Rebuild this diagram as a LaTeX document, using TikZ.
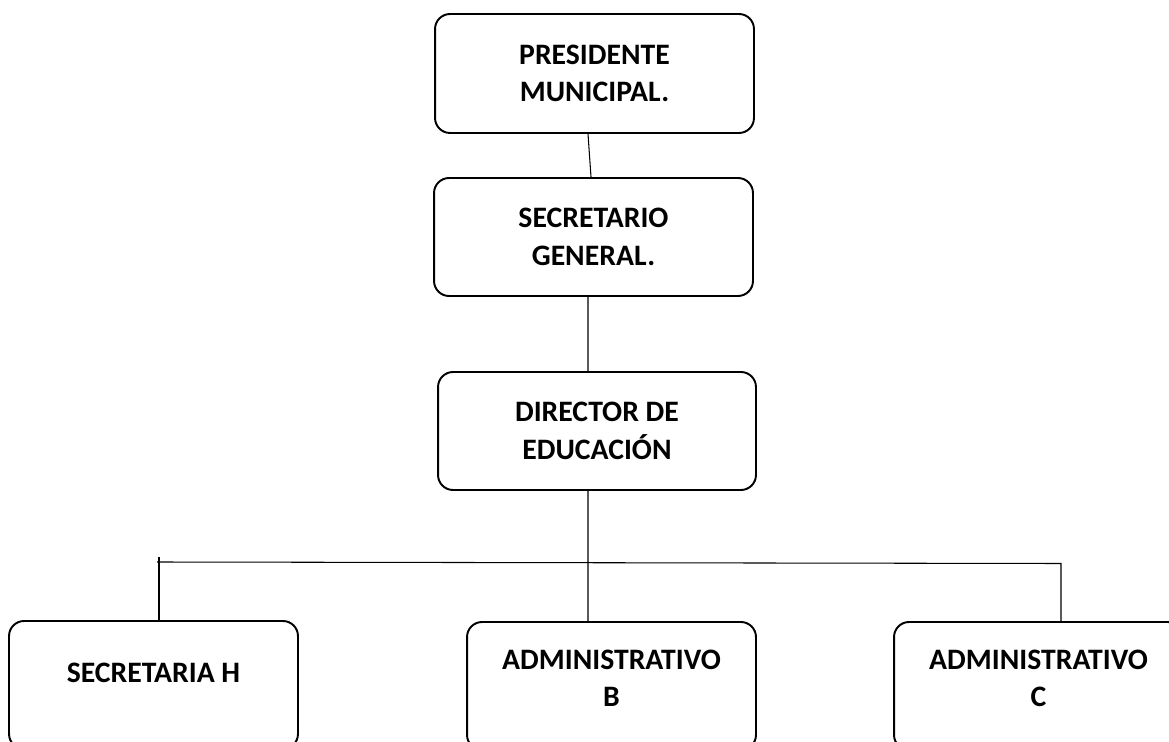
\documentclass[tikz,border=0pt]{standalone}
\usepackage{fontspec}
\setmainfont{Carlito}
\usepackage{tikz}
\usetikzlibrary{positioning}

\begin{document}
\begin{tikzpicture}[x=0.02cm,y=-0.02cm]
        \tikzstyle{every node}+=[inner sep=0pt]
        \tikzstyle{cargo}=[draw=black, line width=1.1pt, rounded corners=0.3cm, align=center, minimum width=5.78cm, minimum height=2.38cm, font=\bfseries\fontsize{16.9}{21.3}\selectfont]
        \tikzstyle{linea}=[black, line width=0.6pt]
        \useasboundingbox (0,0) rectangle (1169,742);
        \clip (0,0) rectangle (1169,742);
        \node [cargo, minimum width=6.38cm] (pres) at (594.5,73.5) {PRESIDENTE\\MUNICIPAL.};
        \node [cargo, minimum width=6.38cm, minimum height=2.36cm] (secg) at (593.5,237) {SECRETARIO\\GENERAL.};
        \node [cargo, minimum width=6.36cm, minimum height=2.36cm] (dir) at (597,431) {DIRECTOR DE\\EDUCACIÓN};
        \node [cargo, minimum height=2.56cm, text depth=0.5cm] (sech) at (153.5,685) {SECRETARIA H};
        \node [cargo, minimum height=2.56cm, text depth=0.3cm] (admb) at (611.5,686) {ADMINISTRATIVO\\B};
        \node [cargo, minimum height=2.56cm, text depth=0.3cm] (admc) at (1038.5,686) {ADMINISTRATIVO\\C};
        \coordinate (busl) at (157,562);
        \coordinate (busr) at (1061,563.5);
        \coordinate (topl) at (159,557);
        \draw [linea] ([xshift=-0.13cm]pres.south) -- ([xshift=-0.05cm]secg.north);
        \draw [linea] ([xshift=-0.11cm]secg.south) -- ([xshift=-0.18cm]dir.north);
        \draw [linea] ([xshift=-0.18cm]dir.south) -- ([xshift=-0.47cm]admb.north);
        \draw [linea] (busl) -- (busr) -- (busr |- admc.north);
        \draw [linea] (topl) -- (topl |- sech.north);
\end{tikzpicture}
\end{document}
